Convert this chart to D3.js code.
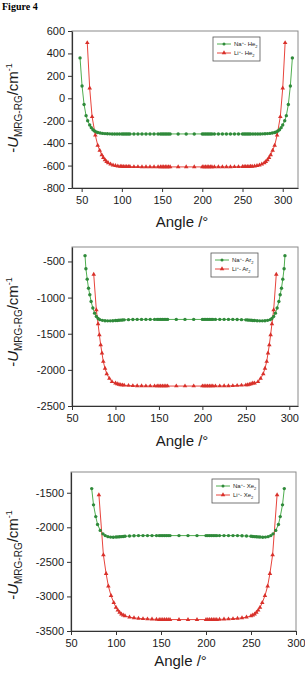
<!DOCTYPE html>
<html>
<head>
<meta charset="utf-8">
<script src="https://cdn.jsdelivr.net/npm/d3@7"></script>
<style>
  body { margin: 0; background: #fff; }
  svg { display: block; }
</style>
</head>
<body>
<div id="chart"></div>
<script>
// ---- data ----
const xTicks = [50, 100, 150, 200, 250, 300];
const heTicks = [-800, -600, -400, -200, 0, 200, 400, 600];
const arTicks = [-2500, -2000, -1500, -1000, -500];
const xeTicks = [-3500, -3000, -2500, -2000, -1500];

// middle (plateau) angles used by all series
const midAngles = [100, 102, 104, 106, 108, 110, 115, 120, 125, 130, 135, 140, 145, 148, 150, 152, 154, 156, 158, 160,
    170, 180, 190, 200, 202, 204, 206, 208, 210, 212, 215, 220, 225, 230, 235, 240, 245, 250, 252, 254, 256, 258, 260];

// Na+ - He2
const naHeLeftA = [48, 50.5, 53, 55.5, 57.5, 60, 62, 64, 66, 68, 70, 73, 76, 79, 82, 85, 88, 91, 94, 97];
const naHeRightA = [263, 266, 269, 272, 275, 278, 281, 284, 287, 290, 292, 294, 296, 298, 300, 302.5, 304.5, 307, 309.5, 312];
const naHeLeft = [360, 110, -55, -155, -200, -238, -262, -280, -292, -300, -305, -310, -313, -315, -316, -317, -318, -318, -318, -318];
const naHeMid = [-318, -318, -318, -318, -318, -318, -318, -318, -318, -318, -318, -318, -318, -318, -318, -318, -318, -318, -318, -318,
    -318, -318, -318, -318, -318, -318, -318, -318, -318, -318, -318, -318, -318, -318, -318, -318, -318, -318, -318, -318, -318, -318, -318];
const naHeRight = [-318, -318, -318, -318, -317, -316, -315, -313, -310, -305, -300, -292, -280, -262, -238, -200, -155, -55, 110, 360];

// Li+ - He2
const liHeLeftA = [57, 60, 63, 67, 70, 72.5, 75, 77, 79, 81, 83, 86, 89, 92, 95, 98];
const liHeRightA = [262, 265, 268, 271, 274, 277, 279, 281, 283, 285, 287.5, 290, 293, 297, 300, 303];
const liHeLeft = [495, 90, -165, -330, -420, -465, -505, -530, -550, -565, -576, -588, -596, -601, -605, -607];
const liHeMid = [-608, -609, -609, -610, -610, -610, -611, -611, -612, -612, -612, -612, -612, -612, -612, -612, -612, -612, -612, -612,
    -612, -612, -612, -612, -612, -612, -612, -612, -612, -612, -612, -612, -612, -612, -612, -611, -611, -610, -610, -610, -609, -609, -608];
const liHeRight = [-607, -605, -601, -596, -588, -576, -565, -550, -530, -505, -465, -420, -330, -165, 90, 495];

// Na+ - Ar2
const naArLeftA = [65, 66, 67.5, 69, 70.5, 72, 74, 76, 78, 80, 82, 85, 88, 91, 94, 97];
const naArRightA = [263, 266, 269, 272, 275, 278, 280, 282, 284, 286, 288, 289.5, 291, 292.5, 294, 295];
const naArLeft = [-420, -600, -745, -870, -960, -1055, -1145, -1215, -1260, -1290, -1305, -1315, -1320, -1322, -1322, -1320];
const naArMid = [-1318, -1316, -1314, -1312, -1310, -1308, -1305, -1303, -1302, -1302, -1302, -1302, -1302, -1302, -1302, -1302, -1302, -1302, -1302, -1302,
    -1302, -1302, -1302, -1302, -1302, -1302, -1302, -1302, -1302, -1302, -1302, -1302, -1302, -1302, -1302, -1303, -1305, -1308, -1310, -1312, -1314, -1316, -1318];
const naArRight = [-1320, -1322, -1322, -1320, -1315, -1305, -1290, -1260, -1215, -1145, -1055, -960, -870, -745, -600, -420];

// Li+ - Ar2
const liArLeftA = [75, 78, 80, 81.5, 83, 84.5, 86, 88, 90, 93, 96];
const liArRightA = [264, 267, 270, 272, 274, 275.5, 277, 278.5, 280, 282, 285];
const liArLeft = [-680, -1170, -1365, -1515, -1655, -1770, -1885, -1980, -2055, -2120, -2165];
const liArMid = [-2185, -2195, -2202, -2207, -2210, -2213, -2217, -2220, -2222, -2223, -2224, -2224, -2224, -2224, -2224, -2224, -2224, -2224, -2224, -2224,
    -2224, -2224, -2224, -2224, -2224, -2224, -2224, -2224, -2224, -2224, -2224, -2224, -2223, -2222, -2220, -2217, -2213, -2210, -2207, -2202, -2195, -2185, -2185];
const liArRight = [-2165, -2120, -2055, -1980, -1885, -1770, -1655, -1515, -1365, -1170, -680];

// Na+ - Xe2
const naXeLeftA = [73, 75, 77.5, 79.5, 82.5, 85.5, 88, 91, 94, 97];
const naXeRightA = [263, 266, 269, 272, 274.5, 277.5, 280.5, 282.5, 285, 287];
const naXeLeft = [-1440, -1675, -1845, -1960, -2045, -2095, -2120, -2135, -2142, -2143];
const naXeMid = [-2141, -2139, -2137, -2135, -2132, -2130, -2126, -2123, -2120, -2120, -2120, -2120, -2120, -2120, -2120, -2120, -2120, -2120, -2120, -2120,
    -2120, -2120, -2120, -2120, -2120, -2120, -2120, -2120, -2120, -2120, -2120, -2120, -2120, -2120, -2120, -2123, -2126, -2130, -2132, -2135, -2137, -2139, -2141];
const naXeRight = [-2143, -2142, -2135, -2120, -2095, -2045, -1960, -1845, -1675, -1440];

// Li+ - Xe2
const liXeLeftA = [81, 86, 89, 91.5, 94.5, 97.5];
const liXeRightA = [262.5, 265.5, 268.5, 271, 274, 279];
const liXeLeft = [-1530, -2400, -2670, -2850, -2990, -3090];
const liXeMid = [-3160, -3200, -3232, -3255, -3272, -3283, -3300, -3310, -3318, -3323, -3327, -3330, -3332, -3335, -3335, -3335, -3335, -3335, -3335, -3335,
    -3335, -3335, -3335, -3335, -3335, -3335, -3335, -3335, -3335, -3335, -3332, -3330, -3327, -3323, -3318, -3310, -3300, -3283, -3272, -3255, -3232, -3200, -3160];
const liXeRight = [-3090, -2990, -2850, -2670, -2400, -1530];

// ---- drawing ----
const width = 305, height = 675;
const greenLine = "#4fae4f", greenDot = "#2f8a3a";
const redLine = "#e8443c", redDot = "#d8302a";

const svg = d3.select("#chart").append("svg")
    .attr("width", width)
    .attr("height", height)
    .attr("font-family", "Liberation Sans, Arial, sans-serif");

svg.append("text")
    .attr("x", 2)
    .attr("y", 10)
    .attr("font-family", "Liberation Serif, Times New Roman, serif")
    .attr("font-weight", "bold")
    .attr("font-size", "10px")
    .attr("fill", "#000")
    .text("Figure 4");

function series(angLeft, valLeft, valMid, angRight, valRight) {
    const a = angLeft.concat(midAngles, angRight);
    const v = valLeft.concat(valMid, valRight);
    return a.map((d, i) => [d, v[i]]);
}

function drawPanel(p) {
    const g = svg.append("g");
    const x = d3.scaleLinear().domain(p.xDomain).range([p.left, p.right]);
    const y = d3.scaleLinear().domain(p.yDomain).range([p.bottom, p.top]);

    // frame
    g.append("rect")
        .attr("x", p.left)
        .attr("y", p.top)
        .attr("width", p.right - p.left)
        .attr("height", p.bottom - p.top)
        .attr("fill", "none")
        .attr("stroke", "#8a8a8a")
        .attr("stroke-width", 1);

    // axes (plain hyphen minus, no thousands separator)
    const fmt = d => String(d);
    const xAxis = g.append("g")
        .attr("transform", `translate(0,${p.bottom})`)
        .call(d3.axisBottom(x).tickValues(xTicks).tickFormat(fmt).tickSize(4).tickPadding(4).tickSizeOuter(0));
    const yAxis = g.append("g")
        .attr("transform", `translate(${p.left},0)`)
        .call(d3.axisLeft(y).tickValues(p.yTicks).tickFormat(fmt).tickSize(4).tickPadding(3).tickSizeOuter(0));
    [xAxis, yAxis].forEach(ax => {
        ax.select(".domain").attr("stroke", "#333").attr("stroke-width", 1.2);
        ax.selectAll(".tick line").attr("stroke", "#333");
        ax.selectAll("text")
            .attr("font-family", "Liberation Sans, Arial, sans-serif")
            .attr("font-size", "11px")
            .attr("fill", "#1a1a1a");
    });

    // axis titles
    g.append("text")
        .attr("x", (p.left + p.right) / 2 - 3)
        .attr("y", p.titleY)
        .attr("text-anchor", "middle")
        .attr("font-size", "15px")
        .attr("fill", "#1a1a1a")
        .text("Angle /°");

    const yl = g.append("text")
        .attr("transform", `translate(18,${p.labelY}) rotate(-90)`)
        .attr("text-anchor", "middle")
        .attr("font-size", "15px")
        .attr("fill", "#1a1a1a");
    yl.append("tspan").text("-");
    yl.append("tspan").attr("font-style", "italic").text("U");
    yl.append("tspan").attr("font-size", "10px").attr("dy", 4).text("MRG-RG");
    yl.append("tspan").attr("dy", -4).text("/cm");
    yl.append("tspan").attr("font-size", "9px").attr("dy", -6).text("-1");

    const line = d3.line().x(d => x(d[0])).y(d => y(d[1]));

    // Na+ series (green circles)
    g.append("path")
        .datum(p.na)
        .attr("d", line)
        .attr("fill", "none")
        .attr("stroke", greenLine)
        .attr("stroke-width", 1);
    // Li+ series (red triangles)
    g.append("path")
        .datum(p.li)
        .attr("d", line)
        .attr("fill", "none")
        .attr("stroke", redLine)
        .attr("stroke-width", 1);

    g.selectAll(".na").data(p.na).join("circle")
        .attr("cx", d => x(d[0]))
        .attr("cy", d => y(d[1]))
        .attr("r", 1.7)
        .attr("fill", greenDot);

    const tri = d3.symbol().type(d3.symbolTriangle).size(9);
    g.selectAll(".li").data(p.li).join("path")
        .attr("d", tri)
        .attr("transform", d => `translate(${x(d[0])},${y(d[1])})`)
        .attr("fill", redDot);

    // legend
    const lg = g.append("g").attr("transform", `translate(${p.legX},${p.legY})`);
    lg.append("rect")
        .attr("width", 47)
        .attr("height", 24)
        .attr("fill", "#fff")
        .attr("stroke", "#555")
        .attr("stroke-width", 0.8);
    const items = [
        {ion: "Na", gas: p.gas, color: greenLine, dot: greenDot, shape: "c"},
        {ion: "Li", gas: p.gas, color: redLine, dot: redDot, shape: "t"}
    ];
    items.forEach((it, i) => {
        const yy = 7 + i * 9;
        lg.append("line")
            .attr("x1", 4).attr("x2", 18)
            .attr("y1", yy).attr("y2", yy)
            .attr("stroke", it.color)
            .attr("stroke-width", 1);
        if (it.shape === "c") {
            lg.append("circle").attr("cx", 11).attr("cy", yy).attr("r", 1.5).attr("fill", it.dot);
        } else {
            lg.append("path").attr("d", tri).attr("transform", `translate(11,${yy})`).attr("fill", it.dot);
        }
        const t = lg.append("text")
            .attr("x", 21)
            .attr("y", yy + 2)
            .attr("font-size", "6px")
            .attr("fill", "#222");
        t.append("tspan").text(it.ion);
        t.append("tspan").attr("font-size", "4px").attr("dy", -2).text("+");
        t.append("tspan").attr("dy", 2).text("- " + it.gas);
        t.append("tspan").attr("font-size", "4px").attr("dy", 1.5).text("2");
    });
}

drawPanel({
    left: 72, right: 298, top: 31, bottom: 188,
    xDomain: [38, 319], yDomain: [-800, 600], yTicks: heTicks,
    titleY: 227, labelY: 108,
    legX: 213, legY: 37, gas: "He",
    na: series(naHeLeftA, naHeLeft, naHeMid, naHeRightA, naHeRight),
    li: series(liHeLeftA, liHeLeft, liHeMid, liHeRightA, liHeRight)
});

drawPanel({
    left: 72, right: 298, top: 247, bottom: 406,
    xDomain: [50, 310], yDomain: [-2500, -300], yTicks: arTicks,
    titleY: 446, labelY: 322,
    legX: 211, legY: 253, gas: "Ar",
    na: series(naArLeftA, naArLeft, naArMid, naArRightA, naArRight),
    li: series(liArLeftA, liArLeft, liArMid, liArRightA, liArRight)
});

drawPanel({
    left: 71, right: 296, top: 472, bottom: 631,
    xDomain: [50, 300], yDomain: [-3500, -1200], yTicks: xeTicks,
    titleY: 666, labelY: 555,
    legX: 212, legY: 479, gas: "Xe",
    na: series(naXeLeftA, naXeLeft, naXeMid, naXeRightA, naXeRight),
    li: series(liXeLeftA, liXeLeft, liXeMid, liXeRightA, liXeRight)
});
</script>
</body>
</html>
